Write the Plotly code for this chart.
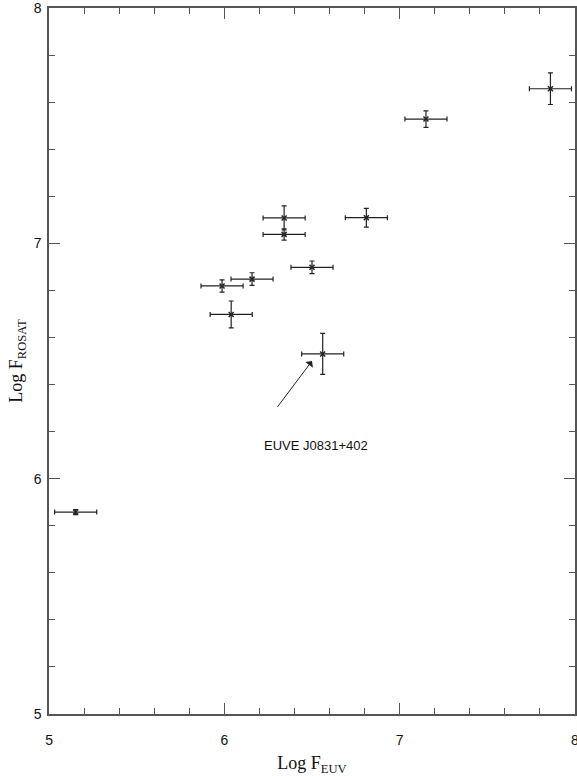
import plotly.graph_objects as go

# Log EUV flux vs log ROSAT flux
log_f_euv = [5.152, 5.987, 6.158, 6.039, 6.341, 6.341, 6.500, 6.561, 6.810, 7.150, 7.860]
log_f_rosat = [5.858, 6.819, 6.848, 6.698, 7.108, 7.038, 6.898, 6.530, 7.109, 7.528, 7.657]
err_euv = [0.12, 0.12, 0.12, 0.12, 0.12, 0.12, 0.12, 0.12, 0.12, 0.12, 0.12]
err_rosat = [0.011, 0.026, 0.027, 0.057, 0.051, 0.024, 0.027, 0.087, 0.040, 0.035, 0.067]

label_text = "EUVE J0831+402"
label_point = (6.50, 6.50)
label_tail = (6.297, 6.299)
label_pos = (6.525, 6.139)

ink = "#222222"
axis_col = "#555555"

fig = go.Figure()
fig.add_trace(go.Scatter(
    x=log_f_euv, y=log_f_rosat, mode="markers",
    marker=dict(symbol="x-thin", size=5, line=dict(width=1.5, color=ink), color=ink),
    error_x=dict(type="data", array=err_euv, thickness=1.2, width=2.5, color=ink),
    error_y=dict(type="data", array=err_rosat, thickness=1.2, width=2.5, color=ink),
    showlegend=False,
))

fig.add_annotation(
    x=label_point[0], y=label_point[1], ax=label_tail[0], ay=label_tail[1],
    xref="x", yref="y", axref="x", ayref="y",
    text="", showarrow=True, arrowhead=1, arrowsize=1.6, arrowwidth=1, arrowcolor=ink,
)
fig.add_annotation(
    x=label_pos[0], y=label_pos[1], xref="x", yref="y", text=label_text,
    showarrow=False, font=dict(family="Liberation Sans, Arial", size=13, color="#111111"),
)

axis_common = dict(
    showgrid=False, zeroline=False, showline=True, linecolor=axis_col, linewidth=1.5,
    mirror="allticks", ticks="inside", ticklen=11, tickwidth=1.2, tickcolor=axis_col,
    dtick=1, tickfont=dict(family="Liberation Sans, Arial", size=14, color="#111111"),
    ticklabeloverflow="allow", automargin=False,
    minor=dict(dtick=0.2, ticks="inside", ticklen=6, tickwidth=1, tickcolor=axis_col),
)

fig.update_xaxes(
    range=[4.9999, 8.0001], tick0=5, ticklabelstandoff=12,
    title=dict(text="Log F<sub>EUV</sub>",
               font=dict(family="Liberation Serif, Times New Roman", size=18, color="#111111"),
               standoff=12),
    **axis_common,
)
fig.update_yaxes(
    range=[4.9999, 8.0001], tick0=5, ticklabelstandoff=3,
    title=dict(text="Log F<sub>ROSAT</sub>",
               font=dict(family="Liberation Serif, Times New Roman", size=18, color="#111111"),
               standoff=6),
    **axis_common,
)

fig.update_layout(
    width=577, height=776,
    margin=dict(l=49, r=2, t=8, b=62),
    paper_bgcolor="white", plot_bgcolor="white",
)

fig.write_html("out.html")
